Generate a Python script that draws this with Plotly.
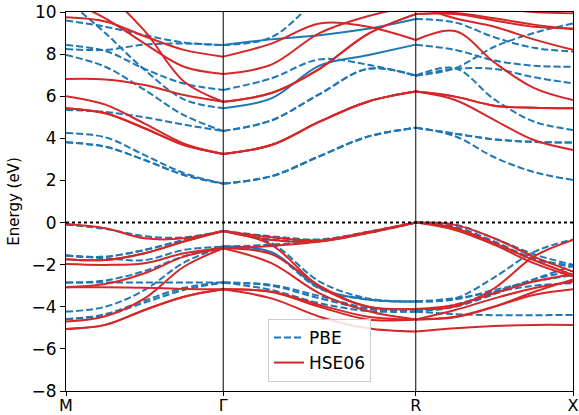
import plotly.graph_objects as go

# ---------------- k-path ----------------
K_LABELS = ["M", "Γ", "R", "X"]
K_NODES = [0.0, 0.7071, 1.5731, 2.2802]
SEG_FRACS = [0.0, 0.25, 0.5, 0.75, 1.0]

# Energies (eV) sampled at M, 1/4, 1/2, 3/4, Γ, 1/4, 1/2, 3/4, R, 1/4, 1/2, 3/4, X
# ---------------- PBE ----------------
pbe_conduction = [
    [3.81, 3.60, 2.97, 2.26, 1.85, 2.20, 3.15, 4.08, 4.50, 4.10, 3.10, 2.40, 2.02],
    [3.81, 3.60, 2.97, 2.26, 1.85, 2.20, 3.15, 4.08, 4.50, 4.22, 3.95, 3.83, 3.80],
    [4.25, 4.05, 3.20, 2.35, 1.85, 2.20, 3.15, 4.08, 4.50, 4.22, 3.95, 3.83, 3.80],
    [5.35, 5.25, 5.00, 4.65, 4.35, 4.85, 6.10, 7.30, 6.98, 7.33, 5.85, 4.80, 4.40],
    [7.96, 7.40, 6.30, 5.10, 4.35, 4.85, 6.10, 7.30, 6.98, 7.33, 8.35, 9.00, 9.46],
    [10.6, 9.00, 7.25, 5.85, 5.43, 5.90, 7.45, 7.95, 8.45, 8.20, 7.70, 7.45, 7.40],
    [8.43, 8.15, 7.30, 6.60, 6.30, 6.85, 7.75, 7.50, 6.98, 7.30, 7.30, 6.90, 6.61],
    [9.60, 9.30, 8.90, 8.55, 8.43, 8.70, 8.90, 9.20, 9.67, 9.50, 8.80, 8.30, 8.12],
    [8.24, 8.20, 8.45, 8.50, 8.43, 8.80, 10.6, 11.5, 12.0, 11.8, 11.5, 11.2, 11.0],
]
pbe_valence = [
    [-0.10, -0.30, -0.65, -0.70, -0.40, -0.80, -0.85, -0.50, 0.00, -0.10, -0.75, -1.50, -2.01],
    [-1.57, -1.62, -1.30, -0.83, -0.40, -0.65, -0.80, -0.45, 0.00, -0.20, -0.90, -1.70, -2.05],
    [-1.57, -1.70, -1.78, -1.30, -1.14, -1.05, -0.85, -0.45, 0.00, -0.25, -1.00, -1.75, -2.10],
    [-2.85, -2.75, -2.30, -1.60, -1.14, -1.46, -3.14, -3.66, -3.75, -3.65, -3.20, -2.80, -2.50],
    [-2.85, -2.85, -2.85, -2.85, -2.85, -2.96, -3.49, -4.07, -4.23, -4.35, -4.40, -4.40, -4.39],
    [-4.23, -4.00, -3.20, -1.90, -1.14, -1.40, -3.10, -3.65, -3.75, -3.60, -3.30, -3.00, -2.88],
    [-4.59, -4.40, -3.80, -3.20, -2.85, -3.20, -3.83, -4.20, -4.23, -3.90, -3.30, -2.70, -2.30],
    [-4.59, -4.35, -3.70, -3.10, -2.85, -3.00, -3.60, -4.10, -4.23, -4.00, -3.40, -2.70, -2.05],
    [-1.57, -1.62, -1.30, -0.83, -0.40, -0.98, -2.80, -3.60, -3.75, -3.60, -2.60, -1.40, -0.80],
]
# ---------------- HSE06 ----------------
hse_conduction = [
    [5.43, 5.19, 4.48, 3.68, 3.26, 3.68, 4.79, 5.74, 6.22, 5.82, 4.87, 3.92, 3.45],
    [5.43, 5.19, 4.48, 3.68, 3.26, 3.68, 4.79, 5.74, 6.22, 5.98, 5.55, 5.45, 5.43],
    [6.00, 5.60, 4.70, 3.75, 3.26, 3.68, 4.79, 5.74, 6.22, 5.98, 5.55, 5.45, 5.43],
    [6.82, 6.80, 6.53, 6.06, 5.74, 6.15, 7.30, 8.95, 9.90, 9.95, 9.70, 9.40, 9.18],
    [12.0, 10.9, 9.10, 6.70, 5.74, 6.15, 7.30, 8.95, 9.90, 9.90, 9.60, 9.30, 9.22],
    [10.6, 9.70, 8.50, 7.40, 7.06, 7.50, 9.00, 9.80, 10.3, 9.70, 9.30, 8.70, 8.20],
    [9.75, 9.55, 8.85, 8.20, 7.88, 8.50, 9.45, 9.30, 8.67, 9.10, 7.60, 6.40, 5.82],
    [11.0, 11.0, 11.0, 10.8, 10.5, 10.8, 11.0, 11.0, 11.0, 10.6, 10.2, 10.0, 9.94],
]
hse_valence = [
    [-0.07, -0.27, -0.75, -0.75, -0.40, -0.83, -0.90, -0.50, 0.00, -0.11, -0.75, -1.62, -2.33],
    [-1.74, -1.78, -1.46, -0.90, -0.40, -1.06, -3.04, -3.99, -4.10, -3.99, -3.12, -1.62, -0.83],
    [-1.97, -2.01, -1.93, -1.46, -1.22, -1.11, -0.90, -0.49, 0.00, -0.35, -1.06, -1.93, -2.57],
    [-3.07, -2.92, -2.41, -1.62, -1.22, -1.93, -3.36, -4.20, -4.60, -4.15, -3.60, -3.12, -2.80],
    [-3.07, -3.07, -3.10, -3.15, -3.17, -3.28, -3.91, -4.47, -4.60, -4.47, -3.99, -3.44, -3.17],
    [-4.70, -4.45, -3.60, -2.10, -1.22, -1.50, -3.00, -4.00, -4.10, -3.91, -3.36, -2.80, -2.45],
    [-5.05, -4.86, -4.15, -3.52, -3.17, -3.60, -4.47, -5.02, -5.18, -5.02, -4.91, -4.86, -4.86],
    [-5.05, -4.86, -4.15, -3.52, -3.17, -3.30, -4.00, -4.60, -4.60, -4.50, -4.00, -3.30, -2.70],
    [-1.74, -1.78, -1.46, -0.90, -0.40, -0.70, -0.85, -0.45, 0.00, -0.27, -0.98, -1.78, -2.49],
]

# segments (0: M-Γ, 1: Γ-R, 2: R-X) where degenerate PBE dashed lines look solid
PBE_SOLID_SEGMENTS = {
    ("c", 5): [1],
    ("c", 7): [1],
    ("v", 5): [1],
}

BLUE = "#1f77b4"
RED = "#d62728"

def seg_x(s):
    a, b = K_NODES[s], K_NODES[s + 1]
    return [a + f * (b - a) for f in SEG_FRACS]

fig = go.Figure()

def add_band(values, color, dash_default, group, name, show, solid_segs=()):
    first = show
    for s in range(3):
        ys = values[4 * s: 4 * s + 5]
        dash = "solid" if s in solid_segs else dash_default
        fig.add_trace(go.Scatter(
            x=seg_x(s), y=ys, mode="lines",
            line=dict(color=color, width=2, dash=dash, shape="spline", smoothing=1.0),
            legendgroup=group, name=name, showlegend=first, hoverinfo="skip"))
        first = False

shown = False
for kind, bands in (("c", pbe_conduction), ("v", pbe_valence)):
    for i, b in enumerate(bands):
        add_band(b, BLUE, "7px,3px", "pbe", "PBE", not shown,
                 PBE_SOLID_SEGMENTS.get((kind, i), ()))
        shown = True

shown = False
for bands in (hse_conduction, hse_valence):
    for b in bands:
        add_band(b, RED, "solid", "hse", "HSE06", not shown)
        shown = True

shapes = []
for xv in K_NODES[1:-1]:
    shapes.append(dict(type="line", xref="x", yref="paper", x0=xv, x1=xv, y0=0, y1=1,
                       line=dict(color="black", width=1)))
shapes.append(dict(type="line", xref="paper", yref="y", x0=0, x1=1, y0=0, y1=0,
                   line=dict(color="black", width=2, dash="dot")))

fig.update_layout(
    width=579, height=415,
    margin=dict(l=66, r=6, t=12, b=24),
    paper_bgcolor="white", plot_bgcolor="white",
    font=dict(family="DejaVu Sans", size=17, color="black"),
    shapes=shapes,
    showlegend=True,
    legend=dict(x=0.5, y=0.024, xanchor="center", yanchor="bottom",
                bgcolor="rgba(255,255,255,0.85)", bordercolor="#cccccc", borderwidth=1,
                font=dict(size=17), itemwidth=30, tracegroupgap=0),
)
fig.update_xaxes(range=[K_NODES[0], K_NODES[-1]], tickvals=K_NODES, ticktext=K_LABELS,
                 showgrid=False, zeroline=False, showline=True, mirror=True,
                 linecolor="black", linewidth=1, ticks="outside", ticklen=4,
                 tickcolor="black", tickfont=dict(size=16), automargin=False,
                 ticklabelstandoff=-4)
fig.update_yaxes(range=[-8, 10], dtick=2, showgrid=False, zeroline=False,
                 showline=True, mirror=True, linecolor="black", linewidth=1,
                 ticks="outside", ticklen=5, tickcolor="black", tickfont=dict(size=17),
                 title=dict(text="Energy (eV)", font=dict(size=15), standoff=8),
                 automargin=False)

fig.write_html("out.html")
